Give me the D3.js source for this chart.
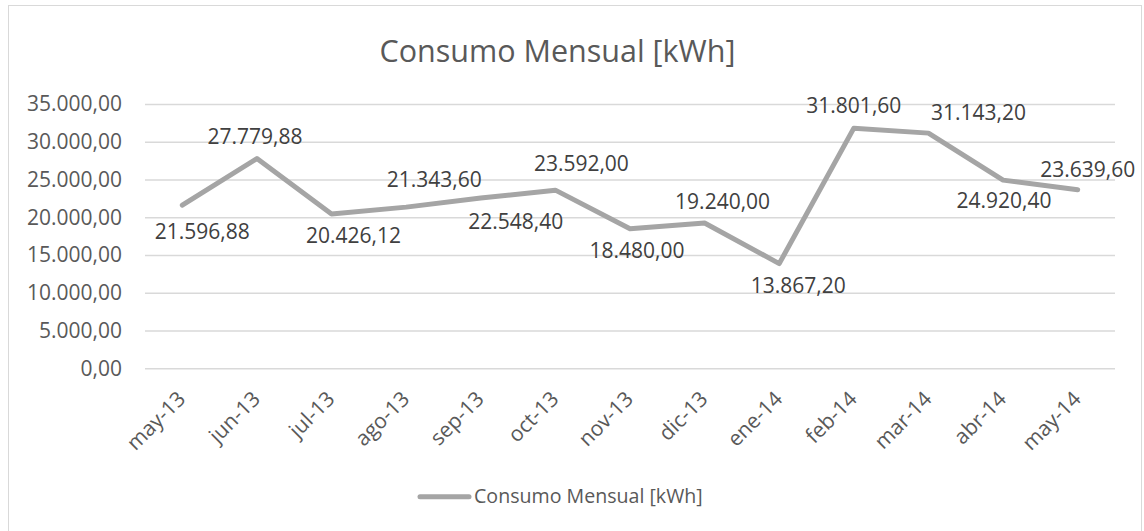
<!DOCTYPE html>
<html>
<head>
<meta charset="utf-8">
<script src="https://cdn.jsdelivr.net/npm/d3@7"></script>
<style>
  body { margin: 0; background: #fff; }
  svg { display: block; font-family: "Open Sans", sans-serif; }
</style>
</head>
<body>
<div id="canvas"></div>
<script>
// chart data
const months = ["may-13", "jun-13", "jul-13", "ago-13", "sep-13", "oct-13", "nov-13",
  "dic-13", "ene-14", "feb-14", "mar-14", "abr-14", "may-14"];
const consumo = [21596.88, 27779.88, 20426.12, 21343.60, 22548.40, 23592.00, 18480.00,
  19240.00, 13867.20, 31801.60, 31143.20, 24920.40, 23639.60];
const yTicks = [0, 5000, 10000, 15000, 20000, 25000, 30000, 35000];
const title = "Consumo Mensual [kWh]";
const seriesName = "Consumo Mensual [kWh]";

// label placement (dx, dy from the point, as in the original sheet)
const labelOffsets = [[20, 34], [-2, -15], [22, 29], [28, -20], [35, 31], [26, -19], [7, 29],
  [18, -14], [19, 29], [0, -15], [50, -13], [1, 28], [10, -13]];

const width = 1144;
const height = 531;
const plot = { left: 145, right: 1115, top: 104, bottom: 368.3 };

const es = d3.formatLocale({ decimal: ",", thousands: ".", grouping: [3], currency: ["", "€"] });
const fmt = es.format(",.2f");

const svg = d3.select("#canvas").append("svg")
  .attr("width", width)
  .attr("height", height);

svg.append("rect")
  .attr("x", 8.5).attr("y", 5.5)
  .attr("width", 1133).attr("height", 540)
  .attr("fill", "#fff")
  .attr("stroke", "#d9d9d9");

const x = d3.scalePoint()
  .domain(months)
  .range([plot.left, plot.right])
  .padding(0.5);

const y = d3.scaleLinear()
  .domain([0, 35000])
  .range([plot.bottom, plot.top]);

// y axis + gridlines
const yAxis = svg.append("g")
  .attr("transform", `translate(${plot.left},0)`)
  .call(d3.axisLeft(y)
    .tickValues(yTicks)
    .tickSize(-(plot.right - plot.left))
    .tickPadding(23)
    .tickFormat(fmt));
yAxis.select(".domain").remove();
yAxis.selectAll("line").attr("stroke", "#d9d9d9").attr("stroke-width", 1.5);
yAxis.selectAll("text")
  .attr("fill", "#595959")
  .style("font-size", "21px")
  .style("font-family", "'Open Sans', sans-serif");

// x axis
const xAxis = svg.append("g")
  .attr("transform", `translate(0,${plot.bottom})`)
  .call(d3.axisBottom(x).tickSize(0));
xAxis.select(".domain").remove();
xAxis.selectAll("text")
  .attr("x", 0).attr("y", 0).attr("dy", 0)
  .attr("text-anchor", "end")
  .attr("transform", "translate(4,32) rotate(-45)")
  .attr("fill", "#595959")
  .style("font-size", "21px")
  .style("font-family", "'Open Sans', sans-serif");

// series line
const line = d3.line()
  .x((d, i) => x(months[i]))
  .y(d => y(d));

svg.append("path")
  .datum(consumo)
  .attr("d", line)
  .attr("fill", "none")
  .attr("stroke", "#a5a5a5")
  .attr("stroke-width", 5)
  .attr("stroke-linejoin", "round")
  .attr("stroke-linecap", "round");

// data labels
svg.append("g").selectAll("text")
  .data(consumo)
  .join("text")
  .attr("x", (d, i) => x(months[i]) + labelOffsets[i][0])
  .attr("y", (d, i) => y(d) + labelOffsets[i][1])
  .attr("text-anchor", "middle")
  .attr("fill", "#404040")
  .style("font-size", "21px")
  .text(d => fmt(d));

// title
svg.append("text")
  .attr("x", 557.5)
  .attr("y", 61.7)
  .attr("text-anchor", "middle")
  .attr("fill", "#595959")
  .style("font-size", "30.5px")
  .text(title);

// legend
const legend = svg.append("g");
legend.append("line")
  .attr("x1", 420).attr("x2", 469)
  .attr("y1", 496.7).attr("y2", 496.7)
  .attr("stroke", "#a5a5a5")
  .attr("stroke-width", 5)
  .attr("stroke-linecap", "round");
legend.append("text")
  .attr("x", 474)
  .attr("y", 503.3)
  .attr("fill", "#595959")
  .style("font-size", "19.6px")
  .text(seriesName);
</script>
</body>
</html>
